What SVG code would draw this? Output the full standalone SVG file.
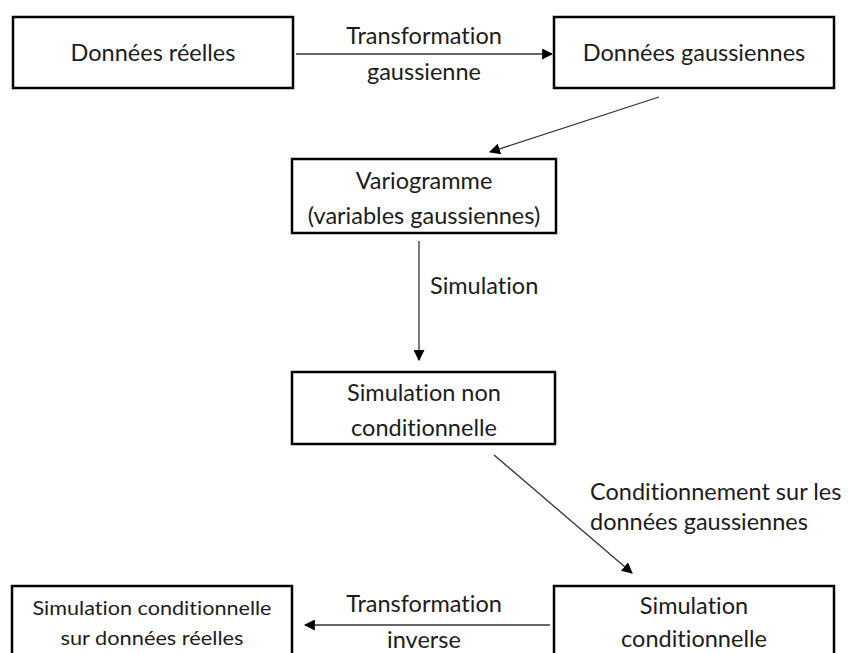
<svg xmlns="http://www.w3.org/2000/svg" width="848" height="653" viewBox="0 0 848 653">
  <style>
    .box { fill: #fff; stroke: #000; stroke-width: 2.5; }
    .lbl { font-family: Lato, "Open Sans", sans-serif; font-size: 23.5px; fill: #1c1c1c; text-anchor: middle; font-variant-ligatures: none; }
    .left { text-anchor: start; }
    .sm { font-size: 19px; }
    .edge { stroke: #333; stroke-width: 1.3; fill: none; marker-end: url(#head); }
  </style>
  <defs>
    <marker id="head" viewBox="0 0 10 10" refX="9" refY="5" markerWidth="11" markerHeight="11" markerUnits="userSpaceOnUse" orient="auto">
      <path d="M0,0 L10,5 L0,10 z" fill="#000"/>
    </marker>
  </defs>
  <rect width="848" height="653" fill="#fff"/>

  <g id="connectors">
    <line class="edge" x1="296" y1="54" x2="552" y2="54"/>
    <text class="lbl" x="424" y="44">Transformation</text>
    <text class="lbl" x="424" y="80">gaussienne</text>

    <line class="edge" x1="659" y1="97" x2="490" y2="152"/>

    <line class="edge" x1="419" y1="241" x2="419" y2="360"/>
    <text class="lbl left" x="430" y="294">Simulation</text>

    <line class="edge" x1="494" y1="455" x2="632" y2="573"/>
    <text class="lbl left" x="590" y="500">Conditionnement sur les</text>
    <text class="lbl left" x="590" y="530">données gaussiennes</text>

    <line class="edge" x1="550" y1="625" x2="305" y2="625"/>
    <text class="lbl" x="424" y="612">Transformation</text>
    <text class="lbl" x="424" y="648">inverse</text>
  </g>

  <g id="donnees-reelles">
    <rect class="box" x="13" y="17" width="280" height="71"/>
    <text class="lbl" x="153" y="61">Données réelles</text>
  </g>

  <g id="donnees-gaussiennes">
    <rect class="box" x="554" y="17" width="280" height="71"/>
    <text class="lbl" x="694" y="61">Données gaussiennes</text>
  </g>

  <g id="variogramme">
    <rect class="box" x="292" y="159" width="264" height="74"/>
    <text class="lbl" x="424" y="189">Variogramme</text>
    <text class="lbl" x="424" y="224">(variables gaussiennes)</text>
  </g>

  <g id="simulation-non-conditionnelle">
    <rect class="box" x="292" y="372" width="263" height="72"/>
    <text class="lbl" x="424" y="401">Simulation non</text>
    <text class="lbl" x="424" y="436">conditionnelle</text>
  </g>

  <g id="simulation-conditionnelle-reelles">
    <rect class="box" x="12" y="586" width="280" height="80"/>
    <text class="lbl sm" x="152" y="615" textLength="239" lengthAdjust="spacingAndGlyphs">Simulation conditionnelle</text>
    <text class="lbl sm" x="152" y="645" textLength="183" lengthAdjust="spacingAndGlyphs">sur données réelles</text>
  </g>

  <g id="simulation-conditionnelle">
    <rect class="box" x="554" y="586" width="280" height="80"/>
    <text class="lbl" x="694" y="614">Simulation</text>
    <text class="lbl" x="694" y="647">conditionnelle</text>
  </g>
</svg>
